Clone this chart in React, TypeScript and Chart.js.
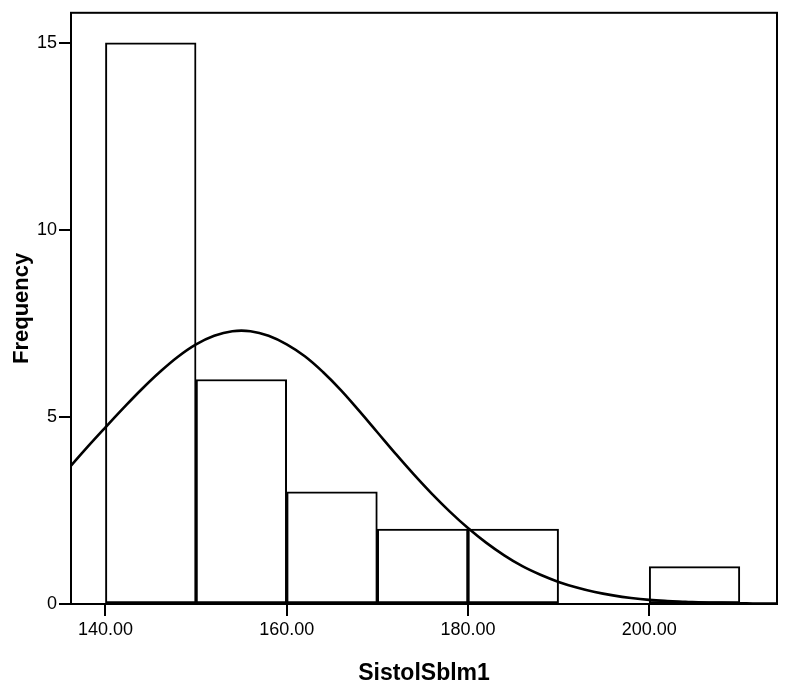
import React, { useEffect, useRef } from "react";
import { Chart, registerables } from "chart.js";

Chart.register(...registerables);

// Histogram bins (bin centres) and frequencies
const binCenters = [145, 155, 165, 175, 185, 195, 205];
const frequencies = [15, 6, 3, 2, 2, null, 1];

// Normal curve
const curveX = [136, 138, 140, 142, 144, 146, 148, 150, 152, 154, 156, 158, 160, 162, 164, 166, 168, 170, 172, 174, 176, 178, 180, 182, 184, 186, 188, 190, 192, 194, 196, 198, 200, 202, 204, 206, 208, 210, 212, 214];
const curveY = [3.64, 4.19, 4.72, 5.24, 5.74, 6.2, 6.61, 6.94, 7.17, 7.29, 7.29, 7.17, 6.94, 6.62, 6.2, 5.71, 5.16, 4.59, 4.02, 3.47, 2.95, 2.47, 2.03, 1.64, 1.3, 1.01, 0.78, 0.59, 0.44, 0.32, 0.23, 0.16, 0.11, 0.08, 0.06, 0.04, 0.03, 0.02, 0.01, 0.01];

const xTicks = [140, 160, 180, 200];
const yTicks = [0, 5, 10, 15];

const xTitle = "SistolSblm1";
const yTitle = "Frequency";

const FONT = "'Liberation Sans', Arial, sans-serif";

const framePlugin = {
  id: "frame",
  afterDatasetsDraw(chart: any) {
    const { ctx, chartArea } = chart;
    ctx.save();
    ctx.strokeStyle = "#000";
    ctx.lineWidth = 2;
    ctx.strokeRect(chartArea.left, chartArea.top, chartArea.right - chartArea.left, chartArea.bottom - chartArea.top);
    ctx.restore();
  },
};

export default function App() {
  const ref = useRef<HTMLCanvasElement>(null);

  useEffect(() => {
    if (!ref.current) return;
    const chart = new Chart(ref.current, {
      type: "bar",
      data: {
        datasets: [
          {
            type: "line",
            data: curveX.map((x, i) => ({ x, y: curveY[i] })),
            borderColor: "#000",
            borderWidth: 2.6,
            pointRadius: 0,
            tension: 0.4,
            fill: false,
            order: 0,
          } as any,
          {
            type: "bar",
            data: binCenters.map((x, i) => ({ x, y: frequencies[i] })),
            backgroundColor: "#fff",
            borderColor: "#000",
            borderWidth: 2,
            borderSkipped: false,
            barPercentage: 1,
            categoryPercentage: 1,
            order: 1,
          } as any,
        ],
      },
      options: {
        responsive: false,
        animation: false,
        layout: { padding: { top: 8, right: 8, left: 0, bottom: 0 } },
        plugins: { legend: { display: false }, tooltip: { enabled: false } },
        scales: {
          x: {
            type: "linear",
            min: 136.2,
            max: 214.1,
            offset: false,
            afterBuildTicks: (axis: any) => {
              axis.ticks = xTicks.map((v) => ({ value: v }));
            },
            afterFit: (axis: any) => {
              axis.height = 93;
            },
            grid: { display: true, offset: false, drawOnChartArea: false, drawTicks: true, tickLength: 12, color: "#000", lineWidth: 2 },
            border: { display: true, color: "#000", width: 2 },
            ticks: {
              color: "#000",
              padding: 3,
              maxRotation: 0,
              font: { family: FONT, size: 18 },
              callback: (v: any) => Number(v).toFixed(2),
            },
            title: {
              display: true,
              text: xTitle,
              color: "#000",
              font: { family: FONT, size: 23, weight: "bold" },
              padding: { top: 0, bottom: 10 },
            },
          },
          y: {
            type: "linear",
            min: 0,
            max: 15.8,
            afterBuildTicks: (axis: any) => {
              axis.ticks = yTicks.map((v) => ({ value: v }));
            },
            afterFit: (axis: any) => {
              axis.width = 71;
            },
            grid: { display: true, drawOnChartArea: false, drawTicks: true, tickLength: 12, color: "#000", lineWidth: 2 },
            border: { display: true, color: "#000", width: 2 },
            ticks: {
              color: "#000",
              padding: 2,
              font: { family: FONT, size: 18 },
            },
            title: {
              display: true,
              text: yTitle,
              color: "#000",
              font: { family: FONT, size: 22, weight: "bold" },
              padding: { top: 9, bottom: 0 },
            },
          },
        },
      },
      plugins: [framePlugin],
    });
    return () => chart.destroy();
  }, []);

  return (
    <canvas
      ref={ref}
      width={785}
      height={697}
      style={{ position: "absolute", left: 0, top: 0, background: "#fff" }}
    />
  );
}
